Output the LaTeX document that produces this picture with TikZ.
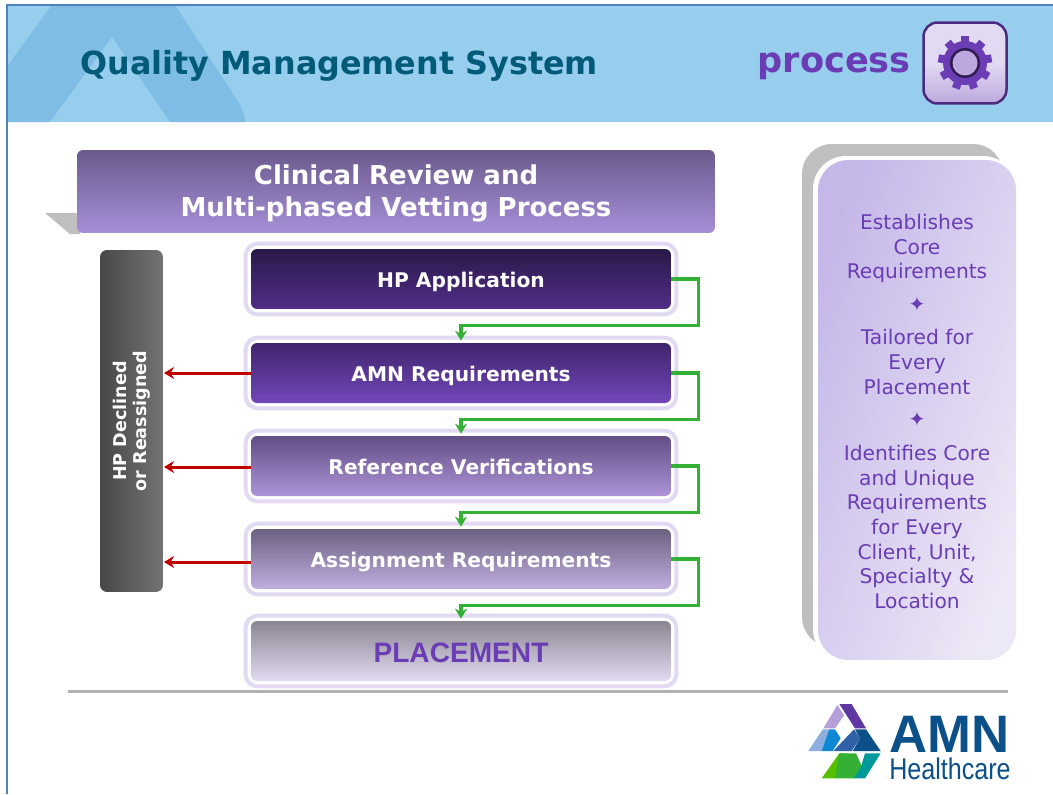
\documentclass[tikz,border=0pt]{standalone}
\usepackage{fontspec}
\setmainfont{DejaVu Sans}
\newfontfamily\armfont{Liberation Sans}
\usetikzlibrary{positioning, arrows.meta, fit, shapes.geometric, calc}
\definecolor{headBlue}{HTML}{97CEEE}
\definecolor{headDark}{HTML}{7FBDE4}
\definecolor{edgeBlue}{HTML}{4F81BD}
\definecolor{titleTeal}{HTML}{005A78}
\definecolor{procPurple}{HTML}{6A3DB5}
\definecolor{frameLav}{HTML}{E2DAF2}
\definecolor{bannerTop}{HTML}{6A5A8C}
\definecolor{bannerBot}{HTML}{A78FD8}
\definecolor{flowGreen}{HTML}{34B034}
\definecolor{rejectRed}{HTML}{C00000}
\definecolor{logoNavy}{HTML}{0B5088}

\begin{document}
\begin{tikzpicture}[
        x=0.02cm, y=-0.02cm,
        >=stealth,
        stepbox/.style={rectangle, rounded corners=0.12cm, minimum width=8.4cm, minimum height=1.2cm, inner sep=0pt, text=white, text height=12pt, text depth=2.2pt, font=\bfseries\fontsize{11.5}{14}\selectfont},
        boxframe/.style={rectangle, rounded corners=0.24cm, draw=frameLav, line width=0.08cm, inner sep=0.1cm},
        flow/.style={draw=flowGreen, line width=0.065cm, shorten >=0.04cm, -{Stealth[length=0.2cm, width=0.24cm]}},
        reject/.style={draw=rejectRed, line width=0.06cm, -{Stealth[length=0.2cm, width=0.24cm]}},
        sidetext/.style={align=center, text=procPurple, font=\fontsize{11.5}{14}\selectfont},
    ]

        \useasboundingbox (0,0) rectangle (1053,794);
        \fill[white] (0,0) rectangle (1053,794);

        % Draw the header band
        \fill[headBlue] (7,5) rectangle (1053,122);
        \fill[headDark] (52,5) -- (175,5) [rounded corners=0.2cm] -- (245,112) [sharp corners] -- (245,122) -- (170,122) -- (112,37) -- (50,122) -- (8,122) -- (8,65) -- cycle;
        \draw[edgeBlue, line width=0.05cm] (7,794) -- (7,5) -- (1053,5);
        \node[text=titleTeal, font=\bfseries\fontsize{18.1}{20}\selectfont, anchor=west, inner sep=0pt] (title) at (80,66) {Quality Management System};
        \node[text=procPurple, font=\bfseries\fontsize{20}{24}\selectfont, anchor=east, inner sep=0pt] (process) at (911,66) {process};

        % Draw the gear icon
        \node[rectangle, rounded corners=0.28cm, draw=procPurple!70!black, line width=0.05cm, top color=frameLav, bottom color=procPurple!45!white, middle color=frameLav, minimum width=1.66cm, minimum height=1.62cm] (icon) at (965,63) {};
        \foreach \a in {0,40,...,320}
            \fill[procPurple, rotate around={\a:(965,63)}] (961,36) rectangle (969,50);
        \fill[procPurple] (965,63) circle (0.44cm);
        \fill[procPurple!45!black] (965,63) circle (0.3cm);
        \fill[procPurple!45!white] (965,63) circle (0.25cm);

        % Draw the banner
        \fill[black!25] (45,213) -- (80,213) -- (80,234) -- (70,234) -- cycle;
        \node[rectangle, rounded corners=0.12cm, top color=bannerTop, bottom color=bannerBot, minimum width=12.76cm, minimum height=1.66cm, inner sep=0pt] (banner) at (396,191.5) {};
        \node[align=center, text=white, inner sep=0pt, font=\bfseries\fontsize{14.8}{18.2}\selectfont] (bannertext) at (396,193.5) {Clinical Review and\\Multi-phased Vetting Process};

        % Draw the side panel
        \fill[black!25, rounded corners=0.6cm] (802,144) rectangle (1003,647);
        \fill[white, rounded corners=0.66cm] (813,156) rectangle (1016,662);
        \node[rectangle, rounded corners=0.6cm, left color=procPurple!32!white!95!blue, right color=procPurple!12!white, shading angle=70, minimum width=3.96cm, minimum height=10cm, inner sep=0pt] (panel) at (917,410) {};
        \node[sidetext] (core) at (917,248.5) {Establishes\\Core\\Requirements};
        \node[sidetext] (star-1) at (917,304) {✦};
        \node[sidetext] (tailored) at (917,362) {Tailored for\\Every\\Placement};
        \node[sidetext] (star-2) at (917,419) {✦};
        \node[sidetext] (unique) at (917,527) {Identifies Core\\and Unique\\Requirements\\for Every\\Client, Unit,\\Specialty \&\\Location};

        % Draw the declined bar
        \node[rectangle, rounded corners=0.14cm, rotate=90, minimum width=6.84cm, minimum height=1.26cm, inner sep=0pt, left color=black!72, right color=black!55, align=center, text=white, font=\bfseries\fontsize{10}{11.5}\selectfont] (decl) at (131.5,421) {HP Declined\\or Reassigned};

        % Draw the process steps
        \node[stepbox, top color=procPurple!40!black, bottom color=procPurple!75!black] (B-1) at (461,279) {HP Application};
        \node[stepbox, top color=procPurple!60!black, bottom color=procPurple!95!white] (B-2) at (461,373) {AMN Requirements};
        \node[stepbox, top color=procPurple!55!gray!85!black, bottom color=procPurple!55!white] (B-3) at (461,466) {Reference Verifications};
        \node[stepbox, top color=procPurple!30!gray!90!black, bottom color=procPurple!42!white] (B-4) at (461,559) {Assignment Requirements};
        \node[stepbox, top color=procPurple!10!gray!90!white, bottom color=frameLav, text=procPurple, text height=14.5pt, text depth=1pt, font=\armfont\bfseries\fontsize{16}{18}\selectfont] (B-5) at (461,651) {PLACEMENT};

        \foreach \name in {1,...,5}
            \node[boxframe, fit=(B-\name)] (F-\name) {};

        % Connect every step with the next one
        \foreach \source / \dest in {1/2,2/3,3/4,4/5}
            \draw[flow] (B-\source.east) -- ++(27,0) -- ++(0,46.5) -| (B-\dest.north);

        % Connect the steps with the declined bar
        \foreach \source / \y in {2/373,3/467,4/562}
            \draw[reject] (B-\source.west |- 0,\y) -- (164,\y);

        % Draw the rule and the logo
        \draw[black!30, line width=0.06cm] (68,691) -- (1008,691);
        \begin{scope}[shift={(780,680)}, x=0.00667cm, y=-0.00667cm]
            \fill[procPurple!50!white] (172,75) -- (192,106) -- (165,145) -- (130,145) -- cycle;
            \fill[procPurple!90!black] (178,72) -- (215,72) -- (258,145) -- (225,145) -- cycle;
            \fill[cyan!50!blue!45!white] (85,213) -- (128,148) -- (150,148) -- (125,213) -- cycle;
            \fill[cyan!70!blue] (148,148) -- (165,148) -- (182,175) -- (158,213) -- (125,213) -- cycle;
            \fill[cyan!40!blue!85!black] (160,213) -- (222,148) -- (240,175) -- (215,213) -- cycle;
            \fill[logoNavy] (225,148) -- (258,148) -- (302,213) -- (218,213) -- (240,175) -- cycle;
            \fill[green!55!yellow!75!black] (125,295) -- (178,220) -- (200,220) -- (165,295) -- cycle;
            \fill[flowGreen] (178,220) -- (228,220) -- (245,258) -- (225,295) -- (165,295) -- cycle;
            \fill[teal!80!cyan] (255,220) -- (302,220) -- (255,295) -- (222,295) -- (243,260) -- cycle;
        \end{scope}
        \node[text=logoNavy, font=\armfont\bfseries\fontsize{30}{30}\selectfont, text depth=0pt, anchor=west, inner sep=0pt] (amn) at (889,734) {AMN};
        \node[text=logoNavy, font=\armfont\fontsize{17}{17}\selectfont, xscale=0.84, text height=11pt, text depth=0pt, anchor=west, inner sep=0pt] (health) at (889,770) {Healthcare};
\end{tikzpicture}
\end{document}
